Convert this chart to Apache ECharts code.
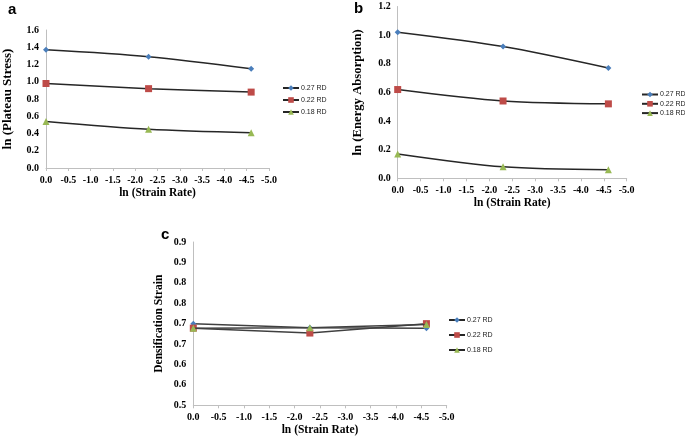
<!DOCTYPE html>
<html>
<head>
<meta charset="utf-8">
<script src="https://cdn.jsdelivr.net/npm/echarts@6/dist/echarts.min.js"></script>
<style>html,body{margin:0;padding:0;background:#fff}#chart{width:685px;height:438px}</style>
</head>
<body>
<div id="chart"></div>
<script>
// ---- data ----
const seriesNames = ['0.27 RD', '0.22 RD', '0.18 RD'];
const lnStrainRate = [0, -2.3, -4.6];
// panel a: ln (Plateau Stress)
const plateau027 = [1.37, 1.29, 1.15];
const plateau022 = [0.98, 0.92, 0.88];
const plateau018 = [0.54, 0.45, 0.41];
// panel b: ln (Energy Absorption)
const energy027 = [1.02, 0.92, 0.77];
const energy022 = [0.62, 0.54, 0.52];
const energy018 = [0.17, 0.08, 0.06];
// panel c: Densification Strain
const densif027 = [0.700, 0.690, 0.689];
const densif022 = [0.689, 0.677, 0.700];
const densif018 = [0.689, 0.690, 0.698];
// tick labels for panel c y axis (0.5 .. 0.9 step 0.05, shown with one decimal)
const densifTickLabels = ['0.5', '0.6', '0.6', '0.7', '0.7', '0.8', '0.8', '0.9', '0.9'];

const colors = ['#4a7ebb', '#be4b48', '#98b954'];
const symbols = ['diamond', 'rect', 'triangle'];
const symbolSizes = [6, 7, 7];

const serif = '"Liberation Serif", "DejaVu Serif", serif';
const sans = '"Liberation Sans", Arial, sans-serif';

function pairs(ys) { return lnStrainRate.map((x, i) => [x, ys[i]]); }

function xAxis(gridIndex) {
  return {
    type: 'value', gridIndex, inverse: true, min: -5, max: 0, interval: 0.5,
    name: 'ln (Strain Rate)', nameLocation: 'middle', nameGap: 19,
    nameTextStyle: { fontFamily: serif, fontWeight: 'bold', fontSize: 11.5, color: '#000' },
    axisLine: { show: true, lineStyle: { color: '#bfbfbf', width: 1 } },
    axisTick: { show: true, length: 3, lineStyle: { color: '#bfbfbf' } },
    splitLine: { show: false },
    axisLabel: { fontFamily: serif, fontWeight: 'bold', fontSize: 10, color: '#000', margin: 7,
      formatter: v => v.toFixed(1) }
  };
}
function yAxis(gridIndex, name, min, max, interval, gap, nameSize, formatter) {
  return {
    type: 'value', gridIndex, min, max, interval,
    name, nameLocation: 'middle', nameGap: gap,
    nameTextStyle: { fontFamily: serif, fontWeight: 'bold', fontSize: nameSize, color: '#000' },
    axisLine: { show: true, lineStyle: { color: '#bfbfbf', width: 1 } },
    axisTick: { show: false },
    splitLine: { show: false },
    axisLabel: { fontFamily: serif, fontWeight: 'bold', fontSize: 10, color: '#000', margin: 7,
      formatter: formatter || (v => v.toFixed(1)) }
  };
}
function makeSeries(idx, valuesList, lineColor, smooth) {
  return valuesList.map((vals, i) => ({
    name: seriesNames[i], type: 'line', xAxisIndex: idx, yAxisIndex: idx,
    data: pairs(vals), smooth,
    symbol: symbols[i], symbolSize: symbolSizes[i], showSymbol: true,
    lineStyle: { color: lineColor, width: 1.5 },
    itemStyle: { color: colors[i] },
    z: 2 + i
  }));
}
function legend(left, top, gap) {
  return {
    orient: 'vertical', left, top, itemWidth: 16, itemHeight: 7, itemGap: gap,
    data: seriesNames, selectedMode: false,
    textStyle: { fontFamily: sans, fontSize: 7, color: '#222', padding: [0, 0, 0, -3] },
    padding: 0
  };
}

const chart = echarts.init(document.getElementById('chart'), null, { renderer: 'canvas' });
chart.setOption({
  animation: false,
  backgroundColor: '#fff',
  grid: [
    { left: 40.7, top: 30, width: 228.3, height: 138 },
    { left: 397.7, top: 6.5, width: 229, height: 171.8 },
    { left: 193.3, top: 242, width: 253.4, height: 163.3 }
  ],
  xAxis: [xAxis(0), xAxis(1), xAxis(2)],
  yAxis: [
    yAxis(0, 'ln (Plateau Stress)', 0, 1.6, 0.2, 32, 13),
    yAxis(1, 'ln (Energy Absorption)', 0, 1.2, 0.2, 33, 12.7),
    yAxis(2, 'Densification Strain', 0.5, 0.9, 0.05, 28, 11.5,
      v => densifTickLabels[Math.round((v - 0.5) / 0.05)])
  ],
  legend: [legend(282, 84.5, 5), legend(641, 91, 2.3), legend(448, 316.5, 8)],
  series: [
    ...makeSeries(0, [plateau027, plateau022, plateau018], '#262626', 0.3),
    ...makeSeries(1, [energy027, energy022, energy018], '#262626', 0.3),
    ...makeSeries(2, [densif027, densif022, densif018], '#404040', false)
  ],
  graphic: [
    { type: 'text', left: 8, top: 2, style: { text: 'a', font: 'bold 15px "Liberation Sans", Arial', fill: '#000' } },
    { type: 'text', left: 354, top: 1, style: { text: 'b', font: 'bold 15px "Liberation Sans", Arial', fill: '#000' } },
    { type: 'text', left: 161, top: 227, style: { text: 'c', font: 'bold 15px "Liberation Sans", Arial', fill: '#000' } }
  ]
});
</script>
</body>
</html>
